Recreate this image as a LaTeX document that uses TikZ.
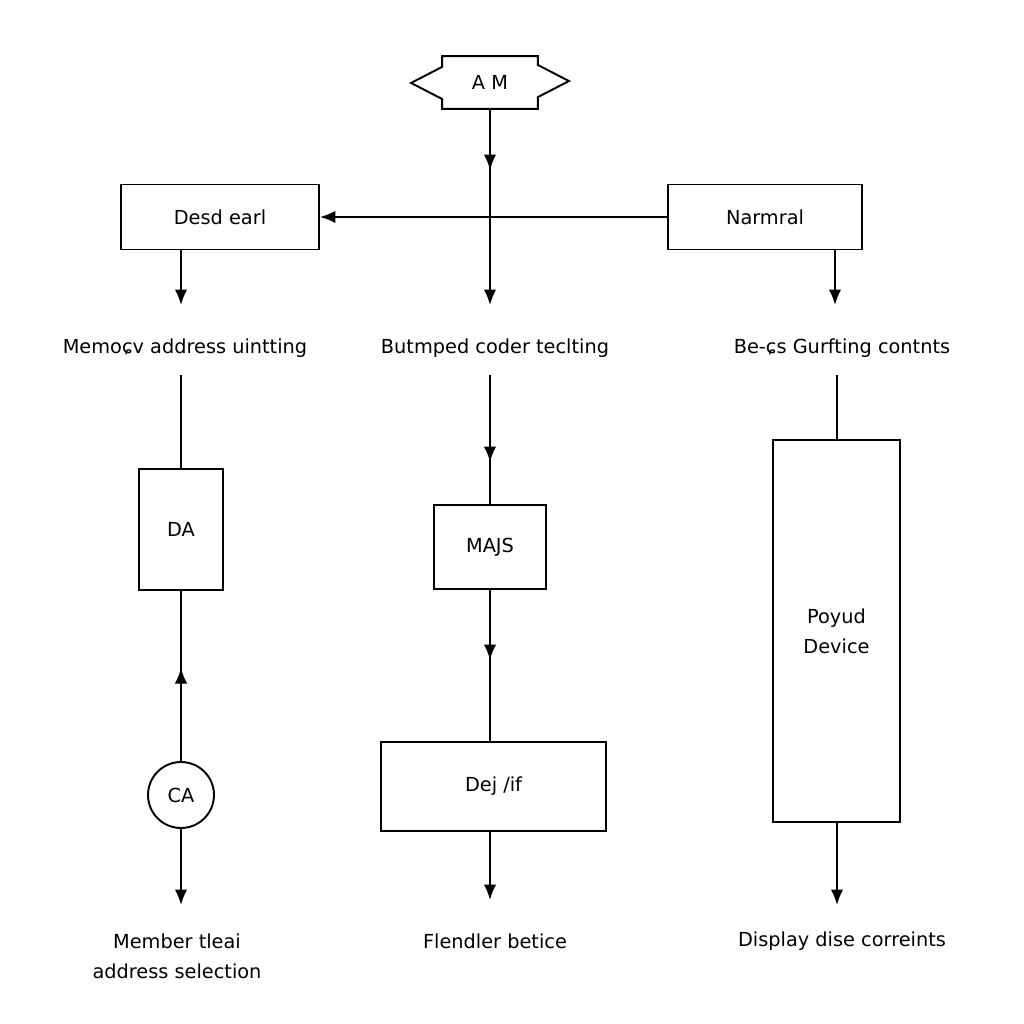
\documentclass[tikz,border=0pt]{standalone}
\usepackage{fontspec}
\setmainfont{DejaVu Sans}
\usepackage{tikz}
\usetikzlibrary{arrows.meta}
\tikzset{every edge/.style={draw}}
\tikzset{>={Latex[length=3.1mm, width=2.5mm]}}

\begin{document}
\begin{tikzpicture}[x=0.02cm, y=-0.02cm, line width=1.1pt,
    font=\fontsize{11}{17}\selectfont,
    box/.style={draw, inner sep=0pt, align=center}]
  \useasboundingbox (0, 0) rectangle (1024, 1024);

  \node[minimum width=1.88cm, minimum height=1.02cm] at (490, 82.5) (am) {A M};
  \draw (am.north west) -- (am.north east) -- ++(0, 9) -- ++(31, 16) -- ++(-31, 16)
    -- (am.south east) -- (am.south west) -- ++(0, -10) -- ++(-31, -16) -- ++(31, -16) -- cycle;

  \node[box, minimum width=3.96cm, minimum height=1.3cm] at (220, 217) (desd) {Desd earl};
  \node[box, minimum width=3.88cm, minimum height=1.3cm] at (765, 217) (narm) {Narmral};

  \node at (185, 348) (lblA) {Memoɕv address uintting};
  \node at (495, 348) (lblB) {Butmped coder teclting};
  \node at (842, 348) (lblC) {Be-ɕs Gurfting contnts};

  \node[box, minimum width=1.68cm, minimum height=2.42cm] at (181, 529.5) (da) {DA};
  \node[box, minimum width=2.24cm, minimum height=1.68cm] at (490, 547) (majs) {MAJS};
  \node[box, minimum width=4.5cm, minimum height=1.78cm] at (493.5, 786.5) (dej) {Dej /if};
  \node[box, minimum width=2.54cm, minimum height=7.64cm] at (836.5, 631) (poyud) {Poyud\\Device};
  \node[draw, circle, minimum size=1.32cm, inner sep=0pt] at (181, 795) (ca) {CA};

  \node[align=center] at (177, 956) (lblD) {Member tleai\\address selection};
  \node at (495, 941) (lblE) {Flendler betice};
  \node at (842, 941) (lblF) {Display dise correints};

  \coordinate (tA) at (181, 305);
  \coordinate (bA) at (181, 375);
  \coordinate (mA) at (181, 668);
  \coordinate (eA) at (181, 905);
  \coordinate (m0) at (490, 170);
  \coordinate (tB) at (490, 305);
  \coordinate (bB) at (490, 375);
  \coordinate (mB1) at (490, 462);
  \coordinate (mB2) at (490, 660);
  \coordinate (eB) at (490, 900);
  \coordinate (tC) at (835, 305);
  \coordinate (bC) at (837, 375);
  \coordinate (eC) at (837, 905);

  \draw (narm) edge[->] (desd);
  \draw (am) edge[->] (tB);
  \draw (am) edge[->] (m0);

  \draw (desd.south -| da) edge[->] (tA);
  \draw (bA) edge (da);
  \draw (ca) edge (da);
  \draw (ca) edge[->] (mA);
  \draw (ca) edge[->] (eA);

  \draw (bB) edge (majs);
  \draw (bB) edge[->] (mB1);
  \draw (majs) edge (majs |- dej.north);
  \draw (majs) edge[->] (mB2);
  \draw (dej.south -| majs) edge[->] (eB);

  \draw (narm.south -| tC) edge[->] (tC);
  \draw (bC) edge (bC |- poyud.north);
  \draw (poyud.south -| eC) edge[->] (eC);
\end{tikzpicture}
\end{document}
